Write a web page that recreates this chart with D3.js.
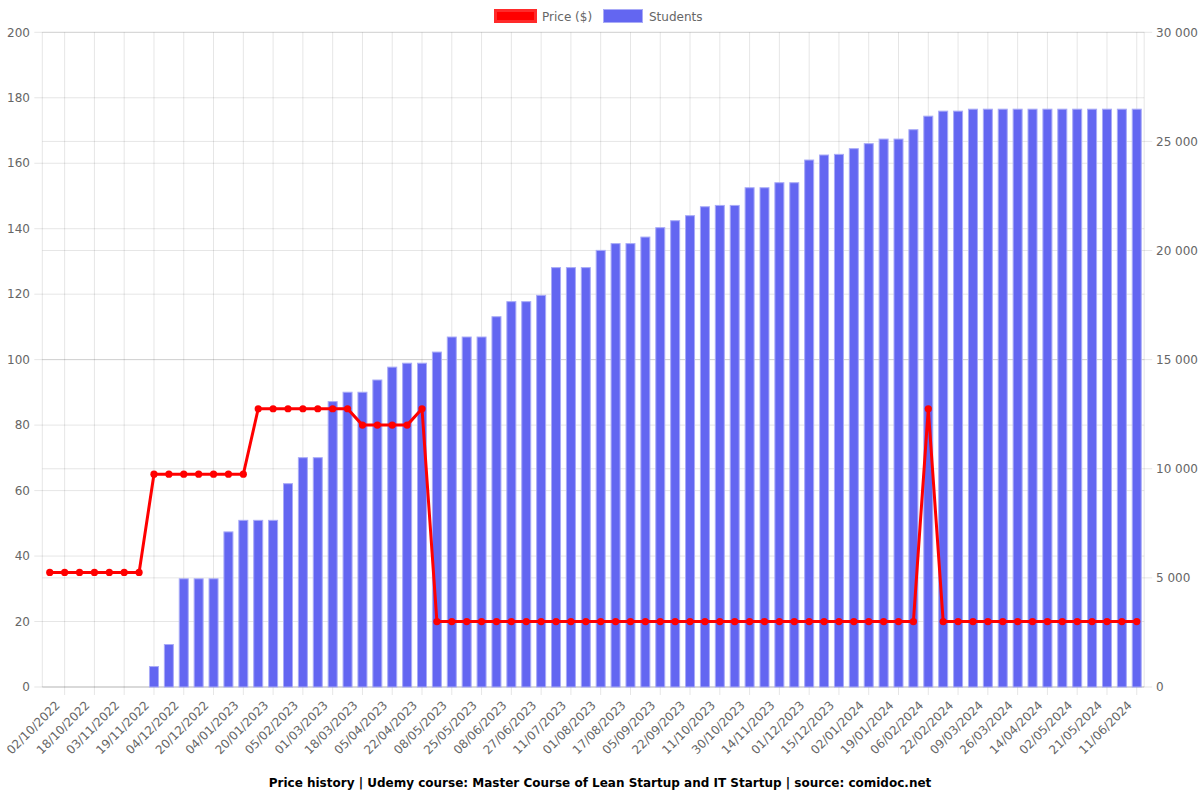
<!DOCTYPE html>
<html><head><meta charset="utf-8">
<script src="https://cdn.jsdelivr.net/npm/d3@7"></script>
<style>body{margin:0;background:#fff} svg{display:block} text{font-family:"DejaVu Sans",sans-serif}</style>
</head><body><svg id="c" width="1200" height="800"></svg>
<script>
// ---- data ----
const price = [
  35,35,35,35,35,35,35,
  65,65,65,65,65,65,65,
  85,85,85,85,85,85,85,
  80,80,80,80,
  85,
  20,20,20,20,20,20,20,20,20,20,
  20,20,20,20,20,20,20,20,20,20,
  20,20,20,20,20,20,20,20,20,20,
  20,20,20,
  85,
  20,20,20,20,20,20,20,20,20,20,20,20,20,20
];
const students = [
  null,null,null,null,null,null,null,
  960,1970,4980,4980,4980,7130,7660,7660,7660,9340,
  10530,10530,13100,13530,13530,14090,14680,14860,14860,15370,
  16060,16060,16060,16990,17680,17680,17970,19240,19240,19240,
  20030,20340,20340,20640,21070,21390,21620,22030,22090,22090,
  22900,22900,23130,23130,24170,24400,24430,24690,24920,25130,
  25130,25560,26180,26410,26410,
  26500,26500,26500,26500,26500,26500,26500,26500,26500,26500,26500,26500
];
// labels shown on every second category (odd indices)
const tickLabels = [
  "02/10/2022","18/10/2022","03/11/2022","19/11/2022","04/12/2022","20/12/2022",
  "04/01/2023","20/01/2023","05/02/2023","01/03/2023","18/03/2023","05/04/2023",
  "22/04/2023","08/05/2023","25/05/2023","08/06/2023","27/06/2023","11/07/2023",
  "01/08/2023","17/08/2023","05/09/2023","22/09/2023","11/10/2023","30/10/2023",
  "14/11/2023","01/12/2023","15/12/2023","02/01/2024","19/01/2024","06/02/2024",
  "22/02/2024","09/03/2024","26/03/2024","14/04/2024","02/05/2024","21/05/2024",
  "11/06/2024"
];
const priceTicks = [0,20,40,60,80,100,120,140,160,180,200];
const studentTicks = [0,5000,10000,15000,20000,25000,30000];
const titleText = "Price history | Udemy course: Master Course of Lean Startup and IT Startup | source: comidoc.net";
const seriesNames = ["Price ($)", "Students"];

// ---- layout ----
const L = 42.3, R = 1144.2, T = 32.3, B = 687;
const grid = "rgba(0,0,0,0.1)";
const n = price.length;
const x = d3.scaleBand().domain(d3.range(n)).range([L, R]).padding(0);
const cx = i => x(i) + x.bandwidth() / 2;
const yL = d3.scaleLinear().domain([0, 200]).range([B, T]);
const yR = d3.scaleLinear().domain([0, 30000]).range([B, T]);
const fmt = v => d3.format(",")(v).replace(/,/g, "\u00a0");

const svg = d3.select("#c");

// horizontal gridlines (left axis)
svg.append("g").selectAll("line").data(priceTicks).join("line")
  .attr("x1", L - 8).attr("x2", R).attr("y1", d => yL(d)).attr("y2", d => yL(d))
  .attr("stroke", grid).attr("stroke-width", 1);
// horizontal gridlines (right axis)
svg.append("g").selectAll("line").data(studentTicks).join("line")
  .attr("x1", L).attr("x2", R + 8).attr("y1", d => yR(d)).attr("y2", d => yR(d))
  .attr("stroke", grid).attr("stroke-width", 1);
// vertical gridlines at labelled categories
const tickIdx = tickLabels.map((_, k) => 2 * k + 1);
svg.append("g").selectAll("line").data(tickIdx).join("line")
  .attr("x1", d => cx(d)).attr("x2", d => cx(d)).attr("y1", T).attr("y2", B + 8)
  .attr("stroke", grid).attr("stroke-width", 1);
// axis borders
svg.append("line").attr("x1", L).attr("x2", L).attr("y1", T).attr("y2", B).attr("stroke", grid);
svg.append("line").attr("x1", R).attr("x2", R).attr("y1", T).attr("y2", B).attr("stroke", grid);
svg.append("line").attr("x1", L).attr("x2", R).attr("y1", B).attr("y2", B).attr("stroke", grid);

// left labels
svg.append("g").selectAll("text").data(priceTicks).join("text")
  .attr("x", 30).attr("y", d => yL(d)).attr("dy", "0.35em")
  .attr("text-anchor", "end").attr("font-size", 12).attr("fill", "#666").text(d => d);
// right labels
svg.append("g").selectAll("text").data(studentTicks).join("text")
  .attr("x", 1156).attr("y", d => yR(d)).attr("dy", "0.35em")
  .attr("text-anchor", "start").attr("font-size", 12).attr("fill", "#666").text(d => fmt(d));
// x labels
svg.append("g").selectAll("text").data(tickLabels).join("text")
  .attr("transform", (d, k) => `translate(${cx(2 * k + 1) - 7},${703}) rotate(-45)`)
  .attr("dy", "0.35em").attr("text-anchor", "end").attr("font-size", 12).attr("fill", "#666")
  .text(d => d);

// bars
const bw = 10;
svg.append("g").selectAll("rect").data(students.map((v, i) => ({ v, i })).filter(d => d.v != null)).join("rect")
  .attr("x", d => cx(d.i) - bw / 2 + 0.5).attr("width", bw - 1)
  .attr("y", d => yR(d.v) + 0.5).attr("height", d => B - yR(d.v) - 0.5)
  .attr("fill", "#6366f1").attr("stroke", "#a9abf7").attr("stroke-width", 1);

// price line
const line = d3.line().x((d, i) => cx(i)).y(d => yL(d));
svg.append("path").datum(price).attr("d", line)
  .attr("fill", "none").attr("stroke", "#ff0000").attr("stroke-width", 3).attr("stroke-linejoin", "round");
svg.append("g").selectAll("circle").data(price).join("circle")
  .attr("cx", (d, i) => cx(i)).attr("cy", d => yL(d)).attr("r", 3.6).attr("fill", "#ff0000");

// legend
const lg = svg.append("g");
lg.append("rect").attr("x", 495.5).attr("y", 10.5).attr("width", 40).attr("height", 11)
  .attr("fill", "#ff0000").attr("stroke", "#ff2a2a").attr("stroke-width", 3);
lg.append("text").attr("x", 542).attr("y", 16.5).attr("dy", "0.35em").attr("font-size", 12).attr("fill", "#666").text(seriesNames[0]);
lg.append("rect").attr("x", 603.5).attr("y", 9.5).attr("width", 39).attr("height", 13)
  .attr("fill", "#6366f1").attr("stroke", "#a9abf7").attr("stroke-width", 1);
lg.append("text").attr("x", 649).attr("y", 16.5).attr("dy", "0.35em").attr("font-size", 12).attr("fill", "#666").text(seriesNames[1]);

// title
svg.append("text").attr("x", 600).attr("y", 783).attr("dy", "0.35em").attr("text-anchor", "middle")
  .attr("font-size", 12).attr("font-weight", "bold").attr("fill", "#000").text(titleText);
</script></body></html>
